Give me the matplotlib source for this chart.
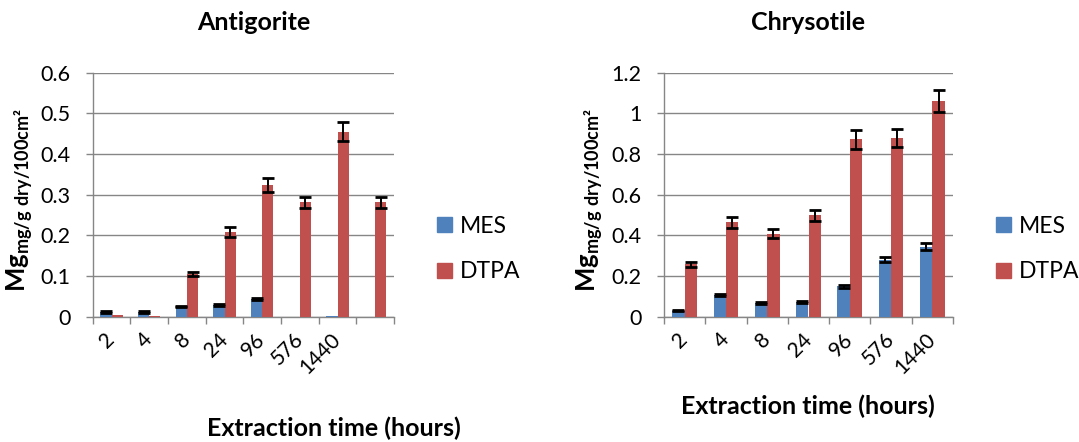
import matplotlib
matplotlib.use('Agg')
import matplotlib.pyplot as plt
import numpy as np

plt.rcParams['font.family'] = ['Lato', 'DejaVu Sans']
plt.rcParams['mathtext.fontset'] = 'custom'
plt.rcParams['mathtext.rm'] = 'Lato'
plt.rcParams['mathtext.bf'] = 'Lato:bold'

# extraction times (hours)
times_antig = ['2', '4', '8', '24', '96', '576', '1440', '']
times_chry = ['2', '4', '8', '24', '96', '576', '1440']

# Antigorite
antig_mes = [0.012, 0.012, 0.025, 0.029, 0.043, 0.0, 0.002, 0.0]
antig_mes_err = [0.002, 0.002, 0.002, 0.002, 0.003, 0.0, 0.0, 0.0]
antig_dtpa = [0.003, 0.002, 0.104, 0.209, 0.324, 0.281, 0.455, 0.281]
antig_dtpa_err = [0.0, 0.0, 0.005, 0.012, 0.017, 0.013, 0.023, 0.013]

# Chrysotile
chry_mes = [0.030, 0.108, 0.066, 0.072, 0.150, 0.281, 0.345]
chry_mes_err = [0.003, 0.005, 0.004, 0.005, 0.008, 0.012, 0.018]
chry_dtpa = [0.257, 0.464, 0.408, 0.500, 0.872, 0.879, 1.060]
chry_dtpa_err = [0.012, 0.026, 0.023, 0.027, 0.045, 0.044, 0.054]

MES_COLOR = '#4F81BD'
DTPA_COLOR = '#C0504D'
GRID = '#868686'
W = 1079
H = 442

fig = plt.figure(figsize=(W / 100, H / 100), dpi=100)


def draw_panel(ax, labels, mes, mes_err, dtpa, dtpa_err, ymax, ystep):
    x = np.arange(len(labels))
    width = 0.3
    ax.bar(x - width / 2, mes, width, color=MES_COLOR, zorder=3)
    ax.bar(x + width / 2, dtpa, width, color=DTPA_COLOR, zorder=3)
    for xs, vals, errs in [(x - width / 2, mes, mes_err), (x + width / 2, dtpa, dtpa_err)]:
        vals = np.array(vals)
        errs = np.array(errs)
        m = errs > 0
        ax.errorbar(xs[m], vals[m], yerr=errs[m], fmt='none', ecolor='black',
                    elinewidth=1.4, capsize=4, capthick=2, zorder=4)

    ax.set_xlim(-0.5, len(labels) - 0.5)
    ax.set_ylim(0, ymax)
    ticks = np.arange(0, ymax + ystep / 2, ystep)
    ax.set_yticks(ticks)
    ax.set_yticklabels(['%g' % round(v, 2) for v in ticks])
    ax.yaxis.grid(True, color=GRID, linewidth=1)
    ax.set_axisbelow(True)

    # tick marks between categories, labels centred under them
    ax.set_xticks(np.arange(-0.5, len(labels), 1.0))
    ax.set_xticklabels([])
    ax.set_xticks(x, minor=True)
    ax.set_xticklabels(labels, minor=True, rotation=45, ha='right', va='center',
                       rotation_mode='anchor', fontsize=15)
    ax.tick_params(axis='x', which='minor', length=0, pad=14)
    ax.tick_params(axis='x', which='major', length=5, color=GRID, width=1)
    ax.tick_params(axis='y', length=5, color=GRID, width=1, labelsize=15.5, pad=11)

    for s in ['top', 'right']:
        ax.spines[s].set_visible(False)
    for s in ['left', 'bottom']:
        ax.spines[s].set_color(GRID)
        ax.spines[s].set_linewidth(1)


ylabel = r'$\mathbf{Mg}_{\mathbf{mg/g\ dry/100cm²}}$'

ax1 = fig.add_axes([92.7 / W, 1 - 316.7 / H, (394 - 92.7) / W, (316.7 - 72.7) / H])
draw_panel(ax1, times_antig, antig_mes, antig_mes_err, antig_dtpa, antig_dtpa_err, 0.6, 0.1)
fig.text(254 / W, 1 - 23 / H, 'Antigorite', ha='center', va='center', fontsize=18, fontweight='bold')
fig.text(334 / W, 1 - 428 / H, 'Extraction time (hours)', ha='center', va='center', fontsize=18, fontweight='bold')
fig.text(20 / W, 1 - 200 / H, ylabel, rotation=90, ha='center', va='center', fontsize=18.5)

ax2 = fig.add_axes([664 / W, 1 - 316.7 / H, (953 - 664) / W, (316.7 - 72.7) / H])
draw_panel(ax2, times_chry, chry_mes, chry_mes_err, chry_dtpa, chry_dtpa_err, 1.2, 0.2)
fig.text(808 / W, 1 - 23 / H, 'Chrysotile', ha='center', va='center', fontsize=18, fontweight='bold')
fig.text(808 / W, 1 - 406 / H, 'Extraction time (hours)', ha='center', va='center', fontsize=18, fontweight='bold')
fig.text(590 / W, 1 - 200 / H, ylabel, rotation=90, ha='center', va='center', fontsize=18.5)

for lx in [437, 996]:
    handles = [plt.Rectangle((0, 0), 1, 1, color=MES_COLOR), plt.Rectangle((0, 0), 1, 1, color=DTPA_COLOR)]
    fig.legend(handles, ['MES', 'DTPA'], loc='center left', bbox_to_anchor=(lx / W, 1 - 249 / H),
               frameon=False, fontsize=16.5, handlelength=0.65, handleheight=0.65,
               handletextpad=0.35, labelspacing=1.07, borderpad=0, borderaxespad=0)

fig.savefig('out.png', dpi=100)
